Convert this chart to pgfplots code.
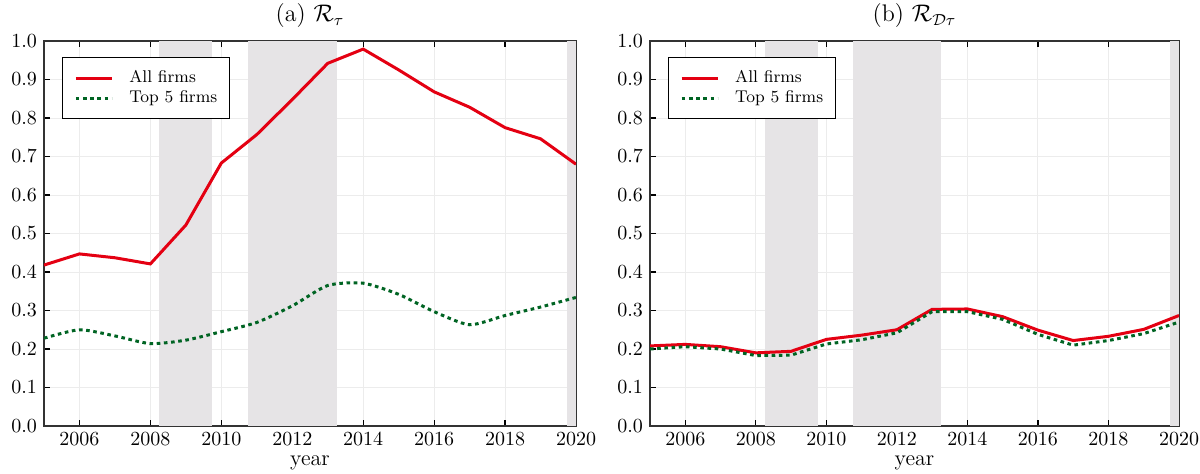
\documentclass[border=0pt]{standalone}
\usepackage{pgfplots}
\pgfplotsset{compat=1.18}
\usepackage{amsmath}
\definecolor{cred}{RGB}{228,0,18}
\definecolor{cgreen}{RGB}{0,100,35}
\definecolor{cshade}{RGB}{230,228,230}
\definecolor{cgrid}{RGB}{236,236,236}
\pgfplotsset{
  myaxis/.style={
    scale only axis, width=266pt, height=192.5pt,
    xmin=2005, xmax=2020, ymin=0, ymax=1,
    xtick={2006,2008,...,2020},
    ytick={0,0.1,...,1.0},
    label style={font=\fontsize{11}{13}\selectfont},
    title style={font=\large, yshift=-3pt},
    x tick label style={/pgf/number format/1000 sep={}},
    y tick label style={/pgf/number format/.cd, fixed, fixed zerofill, precision=1},
    tick align=inside, tick pos=both,
    major tick length=3pt,
    tick style={black, line width=0.6pt},
    grid=major, grid style={cgrid, line width=0.5pt},
    axis line style={black!80, line width=0.7pt},
    xlabel={year}, xlabel style={yshift=2pt},
    legend style={at={(0.0333,0.958)}, anchor=north west, draw=black, line width=0.6pt,
      inner xsep=6pt, inner ysep=6.4pt, row sep=2.3pt, column sep=8pt,
      nodes={inner sep=0pt, text height=6pt, text depth=1.7pt},
      font=\fontsize{8.5}{10}\selectfont},
    legend cell align=left,
    legend image code/.code={\draw[#1] (0pt,0pt) -- (18pt,0pt);},
  },
  redline/.style={cred, line width=1.5pt},
  greenline/.style={cgreen, line width=1.5pt, dash pattern=on 1.8pt off 1.8pt},
  shade/.style={fill=cshade, draw=none, forget plot},
}
\begin{document}
\begin{tikzpicture}
\path[use as bounding box] (-22pt,-23.5pt) rectangle (578pt,213pt);
\begin{axis}[myaxis, at={(0,0)}, anchor=south west, title={(a) $\mathcal{R}_\tau$}]
\addplot[shade] coordinates {(2008.25,0) (2008.25,1) (2009.75,1) (2009.75,0)} -- cycle;
\addplot[shade] coordinates {(2010.75,0) (2010.75,1) (2013.25,1) (2013.25,0)} -- cycle;
\addplot[shade] coordinates {(2019.75,0) (2019.75,1) (2020,1) (2020,0)} -- cycle;
\addplot[redline] coordinates {
(2005,0.418) (2006,0.447) (2007,0.437) (2008,0.421) (2009,0.522) (2010,0.683)
(2011,0.757) (2012,0.848) (2013,0.942) (2014,0.979) (2015,0.925) (2016,0.868)
(2017,0.828) (2018,0.775) (2019,0.746) (2020,0.680)};
\addlegendentry{All firms}
\addplot[greenline, smooth, tension=0.4] coordinates {
(2005,0.228) (2006,0.250) (2007,0.234) (2008,0.214) (2009,0.223) (2010,0.245)
(2011,0.269) (2012,0.312) (2013,0.365) (2014,0.371) (2015,0.342) (2016,0.297)
(2017,0.263) (2018,0.287) (2019,0.309) (2020,0.334)};
\addlegendentry{Top 5 firms}
\end{axis}
\begin{axis}[myaxis, at={(303pt,0)}, anchor=south west, width=264.5pt, title={(b) $\mathcal{R}_{\mathcal{D}\tau}$}]
\addplot[shade] coordinates {(2008.25,0) (2008.25,1) (2009.75,1) (2009.75,0)} -- cycle;
\addplot[shade] coordinates {(2010.75,0) (2010.75,1) (2013.25,1) (2013.25,0)} -- cycle;
\addplot[shade] coordinates {(2019.75,0) (2019.75,1) (2020,1) (2020,0)} -- cycle;
\addplot[redline] coordinates {
(2005,0.208) (2006,0.212) (2007,0.206) (2008,0.190) (2009,0.194) (2010,0.225)
(2011,0.236) (2012,0.250) (2013,0.303) (2014,0.304) (2015,0.284) (2016,0.249)
(2017,0.222) (2018,0.233) (2019,0.251) (2020,0.287)};
\addlegendentry{All firms}
\addplot[greenline] coordinates {
(2005,0.200) (2006,0.206) (2007,0.200) (2008,0.183) (2009,0.184) (2010,0.213)
(2011,0.224) (2012,0.242) (2013,0.297) (2014,0.297) (2015,0.277) (2016,0.238)
(2017,0.210) (2018,0.222) (2019,0.240) (2020,0.270)};
\addlegendentry{Top 5 firms}
\end{axis}
\end{tikzpicture}
\end{document}
